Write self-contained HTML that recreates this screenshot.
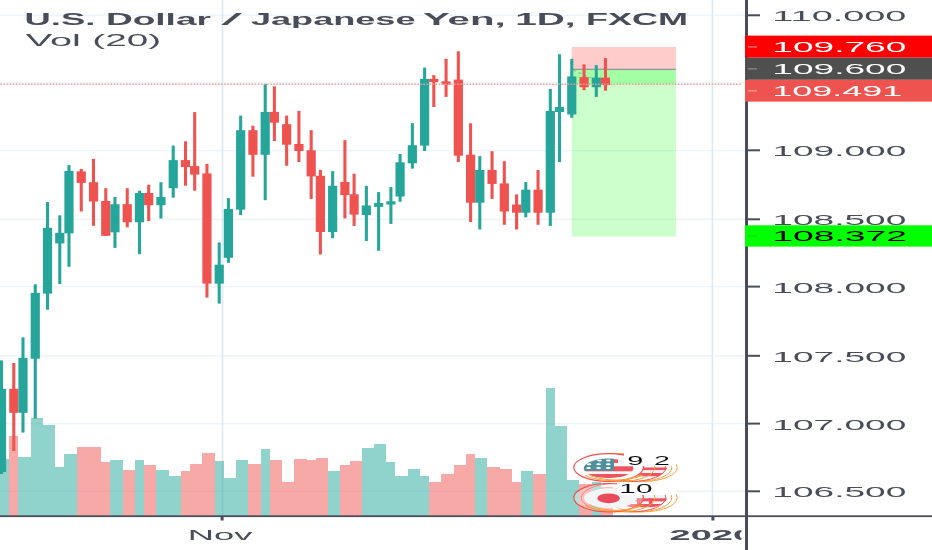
<!DOCTYPE html>
<html><head><meta charset="utf-8"><title>USDJPY chart</title>
<style>
html,body{margin:0;padding:0;background:#fff;}
body{width:932px;height:550px;overflow:hidden;}
svg{display:block;}
text{font-family:"Liberation Sans","DejaVu Sans",sans-serif;}
</style></head><body>
<svg width="932" height="550" viewBox="0 0 932 550">
<defs>
<filter id="soft" x="-2%" y="-2%" width="104%" height="104%"><feGaussianBlur stdDeviation="0.7"/></filter>
<clipPath id="plot"><rect x="0" y="0" width="745" height="516"/></clipPath>
<clipPath id="timeclip"><rect x="0" y="518" width="741.5" height="32"/></clipPath>
</defs>
<rect width="932" height="550" fill="#fff"/>
<g filter="url(#soft)">
<!-- grid -->
<g fill="#eef4f8">
<rect x="0" y="82" width="745" height="1.4" fill="#f3f7fa"/>
<rect x="0" y="14.5" width="745" height="1.6"/>
<rect x="0" y="149.8" width="745" height="1.6"/>
<rect x="0" y="218.5" width="745" height="1.6"/>
<rect x="0" y="285.8" width="745" height="1.6"/>
<rect x="0" y="355" width="745" height="1.6"/>
<rect x="0" y="422.8" width="745" height="1.6"/>
<rect x="0" y="490.5" width="745" height="1.6"/>
</g>
<g fill="#dde8ef">
<rect x="221.7" y="0" width="1.6" height="516"/>
<rect x="711.6" y="0" width="1.6" height="516"/>
</g>
<!-- position tool -->
<rect x="571.7" y="47" width="104.2" height="22.3" fill="rgba(255,0,0,0.2)"/>
<rect x="571.7" y="69.3" width="104.2" height="167.3" fill="rgba(0,255,0,0.2)"/>
<rect x="571.7" y="69.3" width="104.2" height="14.7" fill="rgba(0,255,0,0.2)"/>
<rect x="571.7" y="68.7" width="104.2" height="1.2" fill="#8f8f9c"/>
<line x1="573" y1="70" x2="591" y2="78" stroke="#8f8f9c" stroke-width="0.8" stroke-dasharray="3 3"/>
<!-- volume -->
<g clip-path="url(#plot)" shape-rendering="crispEdges">
<rect x="-3.07" y="458.9" width="12.26" height="56.7" fill="rgba(38,166,154,0.5)"/>
<rect x="9.2" y="435.6" width="9.2" height="80" fill="rgba(239,83,80,0.5)"/>
<rect x="18.39" y="456.9" width="12.26" height="58.7" fill="rgba(38,166,154,0.5)"/>
<rect x="30.66" y="418.4" width="12.26" height="97.2" fill="rgba(38,166,154,0.5)"/>
<rect x="42.92" y="424.6" width="12.26" height="91" fill="rgba(38,166,154,0.5)"/>
<rect x="55.18" y="466.6" width="9.2" height="49" fill="rgba(38,166,154,0.5)"/>
<rect x="64.38" y="454" width="12.26" height="61.6" fill="rgba(38,166,154,0.5)"/>
<rect x="76.64" y="446.8" width="12.26" height="68.8" fill="rgba(239,83,80,0.5)"/>
<rect x="88.91" y="446.8" width="12.26" height="68.8" fill="rgba(239,83,80,0.5)"/>
<rect x="101.17" y="461.5" width="9.2" height="54.1" fill="rgba(239,83,80,0.5)"/>
<rect x="110.37" y="459.9" width="12.26" height="55.7" fill="rgba(38,166,154,0.5)"/>
<rect x="122.63" y="469.9" width="12.26" height="45.7" fill="rgba(239,83,80,0.5)"/>
<rect x="134.89" y="460" width="9.2" height="55.6" fill="rgba(38,166,154,0.5)"/>
<rect x="144.09" y="465" width="12.26" height="50.6" fill="rgba(239,83,80,0.5)"/>
<rect x="156.36" y="470.2" width="12.26" height="45.4" fill="rgba(38,166,154,0.5)"/>
<rect x="168.62" y="476.2" width="12.26" height="39.4" fill="rgba(38,166,154,0.5)"/>
<rect x="180.88" y="471.2" width="9.2" height="44.4" fill="rgba(239,83,80,0.5)"/>
<rect x="190.08" y="463.9" width="12.26" height="51.7" fill="rgba(239,83,80,0.5)"/>
<rect x="202.34" y="452.9" width="12.26" height="62.7" fill="rgba(239,83,80,0.5)"/>
<rect x="214.61" y="461.4" width="9.2" height="54.2" fill="rgba(38,166,154,0.5)"/>
<rect x="223.8" y="477.5" width="12.26" height="38.1" fill="rgba(38,166,154,0.5)"/>
<rect x="236.07" y="460.2" width="12.26" height="55.4" fill="rgba(38,166,154,0.5)"/>
<rect x="248.33" y="463.9" width="12.26" height="51.7" fill="rgba(239,83,80,0.5)"/>
<rect x="260.59" y="449.1" width="9.2" height="66.5" fill="rgba(38,166,154,0.5)"/>
<rect x="269.79" y="460.2" width="12.26" height="55.4" fill="rgba(239,83,80,0.5)"/>
<rect x="282.05" y="482.2" width="12.26" height="33.4" fill="rgba(239,83,80,0.5)"/>
<rect x="294.32" y="458.9" width="12.26" height="56.7" fill="rgba(239,83,80,0.5)"/>
<rect x="306.58" y="460.2" width="9.2" height="55.4" fill="rgba(239,83,80,0.5)"/>
<rect x="315.78" y="457.6" width="12.26" height="58" fill="rgba(239,83,80,0.5)"/>
<rect x="328.04" y="471.2" width="12.26" height="44.4" fill="rgba(38,166,154,0.5)"/>
<rect x="340.3" y="465.2" width="9.2" height="50.4" fill="rgba(239,83,80,0.5)"/>
<rect x="349.5" y="461.4" width="12.26" height="54.2" fill="rgba(239,83,80,0.5)"/>
<rect x="361.76" y="447.8" width="12.26" height="67.8" fill="rgba(38,166,154,0.5)"/>
<rect x="374.03" y="444.2" width="12.26" height="71.4" fill="rgba(38,166,154,0.5)"/>
<rect x="386.29" y="461.5" width="9.2" height="54.1" fill="rgba(38,166,154,0.5)"/>
<rect x="395.49" y="476.1" width="12.26" height="39.5" fill="rgba(38,166,154,0.5)"/>
<rect x="407.75" y="468.8" width="12.26" height="46.8" fill="rgba(38,166,154,0.5)"/>
<rect x="420.01" y="476.1" width="9.2" height="39.5" fill="rgba(38,166,154,0.5)"/>
<rect x="429.21" y="482.3" width="12.26" height="33.3" fill="rgba(239,83,80,0.5)"/>
<rect x="441.47" y="473.8" width="12.26" height="41.8" fill="rgba(239,83,80,0.5)"/>
<rect x="453.74" y="465.3" width="12.26" height="50.3" fill="rgba(239,83,80,0.5)"/>
<rect x="466" y="454" width="9.2" height="61.6" fill="rgba(239,83,80,0.5)"/>
<rect x="475.2" y="457.8" width="12.26" height="57.8" fill="rgba(38,166,154,0.5)"/>
<rect x="487.46" y="466.5" width="12.26" height="49.1" fill="rgba(239,83,80,0.5)"/>
<rect x="499.72" y="468.8" width="12.26" height="46.8" fill="rgba(239,83,80,0.5)"/>
<rect x="511.99" y="482.3" width="9.2" height="33.3" fill="rgba(239,83,80,0.5)"/>
<rect x="521.18" y="471.3" width="12.26" height="44.3" fill="rgba(38,166,154,0.5)"/>
<rect x="533.45" y="473.8" width="12.26" height="41.8" fill="rgba(239,83,80,0.5)"/>
<rect x="545.71" y="387.5" width="9.2" height="128.1" fill="rgba(38,166,154,0.5)"/>
<rect x="554.91" y="425.8" width="12.26" height="89.8" fill="rgba(38,166,154,0.5)"/>
<rect x="567.17" y="480" width="12.26" height="35.6" fill="rgba(38,166,154,0.5)"/>
<rect x="579.43" y="483.8" width="12.26" height="31.8" fill="rgba(239,83,80,0.5)"/>
<rect x="591.7" y="482.4" width="9.2" height="33.2" fill="rgba(38,166,154,0.5)"/>
<rect x="600.89" y="487" width="12.26" height="28.6" fill="rgba(239,83,80,0.5)"/>
</g>
<!-- candles -->
<g clip-path="url(#plot)">
<rect x="0" y="360.4" width="3.07" height="113.6" fill="#26a69a"/>
<rect x="-3.07" y="388.8" width="9.2" height="83.2" fill="#26a69a"/>
<rect x="12.26" y="363" width="3.07" height="88" fill="#ef5350"/>
<rect x="9.2" y="388.8" width="9.2" height="24" fill="#ef5350"/>
<rect x="21.46" y="337.3" width="3.07" height="95.3" fill="#26a69a"/>
<rect x="18.39" y="357.9" width="9.2" height="54.9" fill="#26a69a"/>
<rect x="33.72" y="284.3" width="3.07" height="134.3" fill="#26a69a"/>
<rect x="30.66" y="292.9" width="9.2" height="65.8" fill="#26a69a"/>
<rect x="45.99" y="202" width="3.07" height="107.7" fill="#26a69a"/>
<rect x="42.92" y="227.8" width="9.2" height="65.8" fill="#26a69a"/>
<rect x="58.25" y="215.3" width="3.07" height="68.8" fill="#26a69a"/>
<rect x="55.18" y="232.8" width="9.2" height="10.6" fill="#26a69a"/>
<rect x="67.45" y="165.1" width="3.07" height="101.7" fill="#26a69a"/>
<rect x="64.38" y="170.9" width="9.2" height="62.4" fill="#26a69a"/>
<rect x="79.71" y="168.9" width="3.07" height="42.6" fill="#ef5350"/>
<rect x="76.64" y="171.4" width="9.2" height="11.5" fill="#ef5350"/>
<rect x="91.97" y="158.8" width="3.07" height="67" fill="#ef5350"/>
<rect x="88.91" y="182.2" width="9.2" height="19.3" fill="#ef5350"/>
<rect x="104.24" y="188.2" width="3.07" height="47.6" fill="#ef5350"/>
<rect x="101.17" y="201" width="9.2" height="34.8" fill="#ef5350"/>
<rect x="113.43" y="197" width="3.07" height="50.9" fill="#26a69a"/>
<rect x="110.37" y="204.2" width="9.2" height="28.1" fill="#26a69a"/>
<rect x="125.7" y="188.2" width="3.07" height="39.1" fill="#ef5350"/>
<rect x="122.63" y="204.2" width="9.2" height="18.1" fill="#ef5350"/>
<rect x="137.96" y="190.7" width="3.07" height="63.5" fill="#26a69a"/>
<rect x="134.89" y="193" width="9.2" height="29.3" fill="#26a69a"/>
<rect x="147.16" y="184.7" width="3.07" height="36.3" fill="#ef5350"/>
<rect x="144.09" y="193" width="9.2" height="12.2" fill="#ef5350"/>
<rect x="159.42" y="182.2" width="3.07" height="36.3" fill="#26a69a"/>
<rect x="156.36" y="197" width="9.2" height="8.2" fill="#26a69a"/>
<rect x="171.68" y="145.6" width="3.07" height="52.1" fill="#26a69a"/>
<rect x="168.62" y="160.1" width="9.2" height="28.1" fill="#26a69a"/>
<rect x="183.95" y="141.3" width="3.07" height="44.4" fill="#ef5350"/>
<rect x="180.88" y="160.1" width="9.2" height="7" fill="#ef5350"/>
<rect x="193.14" y="112.1" width="3.07" height="78.6" fill="#ef5350"/>
<rect x="190.08" y="166.1" width="9.2" height="8.5" fill="#ef5350"/>
<rect x="205.41" y="163.9" width="3.07" height="133.7" fill="#ef5350"/>
<rect x="202.34" y="173.4" width="9.2" height="110.2" fill="#ef5350"/>
<rect x="217.67" y="242.5" width="3.07" height="61.1" fill="#26a69a"/>
<rect x="214.61" y="264.7" width="9.2" height="18.9" fill="#26a69a"/>
<rect x="226.87" y="198.1" width="3.07" height="64.7" fill="#26a69a"/>
<rect x="223.8" y="208.9" width="9.2" height="48.9" fill="#26a69a"/>
<rect x="239.13" y="115.6" width="3.07" height="99.5" fill="#26a69a"/>
<rect x="236.07" y="130.2" width="9.2" height="79.4" fill="#26a69a"/>
<rect x="251.39" y="125.7" width="3.07" height="51" fill="#ef5350"/>
<rect x="248.33" y="130.2" width="9.2" height="24.6" fill="#ef5350"/>
<rect x="263.66" y="83.8" width="3.07" height="116.4" fill="#26a69a"/>
<rect x="260.59" y="111.9" width="9.2" height="42.9" fill="#26a69a"/>
<rect x="272.86" y="86.3" width="3.07" height="54.7" fill="#ef5350"/>
<rect x="269.79" y="111.9" width="9.2" height="10.8" fill="#ef5350"/>
<rect x="285.12" y="115.6" width="3.07" height="50.2" fill="#ef5350"/>
<rect x="282.05" y="124.2" width="9.2" height="20.5" fill="#ef5350"/>
<rect x="297.38" y="110.9" width="3.07" height="51.1" fill="#ef5350"/>
<rect x="294.32" y="144" width="9.2" height="7" fill="#ef5350"/>
<rect x="309.64" y="130.2" width="3.07" height="68.8" fill="#ef5350"/>
<rect x="306.58" y="150.3" width="9.2" height="26.1" fill="#ef5350"/>
<rect x="318.84" y="169.8" width="3.07" height="84.7" fill="#ef5350"/>
<rect x="315.78" y="175.8" width="9.2" height="56.2" fill="#ef5350"/>
<rect x="331.11" y="171.2" width="3.07" height="67" fill="#26a69a"/>
<rect x="328.04" y="185.8" width="9.2" height="46.2" fill="#26a69a"/>
<rect x="343.37" y="140.2" width="3.07" height="78.2" fill="#ef5350"/>
<rect x="340.3" y="182" width="9.2" height="13.1" fill="#ef5350"/>
<rect x="352.57" y="173.7" width="3.07" height="52.2" fill="#ef5350"/>
<rect x="349.5" y="194.3" width="9.2" height="20.3" fill="#ef5350"/>
<rect x="364.83" y="185.8" width="3.07" height="55.2" fill="#26a69a"/>
<rect x="361.76" y="205.5" width="9.2" height="9.6" fill="#26a69a"/>
<rect x="377.09" y="192.1" width="3.07" height="58.7" fill="#26a69a"/>
<rect x="374.03" y="203" width="9.2" height="3.9" fill="#26a69a"/>
<rect x="389.36" y="187.1" width="3.07" height="36.8" fill="#26a69a"/>
<rect x="386.29" y="201.3" width="9.2" height="3.2" fill="#26a69a"/>
<rect x="398.55" y="154" width="3.07" height="47.8" fill="#26a69a"/>
<rect x="395.49" y="162.3" width="9.2" height="34.2" fill="#26a69a"/>
<rect x="410.82" y="123.2" width="3.07" height="45.4" fill="#26a69a"/>
<rect x="407.75" y="145.2" width="9.2" height="18.1" fill="#26a69a"/>
<rect x="423.08" y="67.6" width="3.07" height="83.4" fill="#26a69a"/>
<rect x="420.01" y="78.9" width="9.2" height="66.7" fill="#26a69a"/>
<rect x="432.28" y="75.1" width="3.07" height="31.9" fill="#ef5350"/>
<rect x="429.21" y="78.9" width="9.2" height="3.2" fill="#ef5350"/>
<rect x="444.54" y="58.8" width="3.07" height="38.1" fill="#ef5350"/>
<rect x="441.47" y="81.4" width="9.2" height="3.2" fill="#ef5350"/>
<rect x="456.8" y="51.3" width="3.07" height="110.7" fill="#ef5350"/>
<rect x="453.74" y="79.6" width="9.2" height="76.1" fill="#ef5350"/>
<rect x="469.07" y="123.3" width="3.07" height="98.7" fill="#ef5350"/>
<rect x="466" y="154.7" width="9.2" height="48" fill="#ef5350"/>
<rect x="478.26" y="156.1" width="3.07" height="73.4" fill="#26a69a"/>
<rect x="475.2" y="170" width="9.2" height="32.7" fill="#26a69a"/>
<rect x="490.53" y="151.2" width="3.07" height="47.7" fill="#ef5350"/>
<rect x="487.46" y="170" width="9.2" height="13.9" fill="#ef5350"/>
<rect x="502.79" y="161.2" width="3.07" height="63.6" fill="#ef5350"/>
<rect x="499.72" y="183.4" width="9.2" height="28.1" fill="#ef5350"/>
<rect x="515.05" y="194.4" width="3.07" height="35.1" fill="#ef5350"/>
<rect x="511.99" y="204.5" width="9.2" height="8.2" fill="#ef5350"/>
<rect x="524.25" y="182.1" width="3.07" height="35.2" fill="#26a69a"/>
<rect x="521.18" y="189.7" width="9.2" height="23" fill="#26a69a"/>
<rect x="536.51" y="170" width="3.07" height="54.8" fill="#ef5350"/>
<rect x="533.45" y="189.7" width="9.2" height="23" fill="#ef5350"/>
<rect x="548.78" y="88.9" width="3.07" height="137.1" fill="#26a69a"/>
<rect x="545.71" y="111" width="9.2" height="101.7" fill="#26a69a"/>
<rect x="557.97" y="54.3" width="3.07" height="107.7" fill="#26a69a"/>
<rect x="554.91" y="107" width="9.2" height="5" fill="#26a69a"/>
<rect x="570.24" y="58.8" width="3.07" height="59" fill="#26a69a"/>
<rect x="567.17" y="76.4" width="9.2" height="38.1" fill="#26a69a"/>
<rect x="582.5" y="64.3" width="3.07" height="25.9" fill="#ef5350"/>
<rect x="579.43" y="77.1" width="9.2" height="10.1" fill="#ef5350"/>
<rect x="594.76" y="65.1" width="3.07" height="31.8" fill="#26a69a"/>
<rect x="591.7" y="77.6" width="9.2" height="9.6" fill="#26a69a"/>
<rect x="603.96" y="58.1" width="3.07" height="32.6" fill="#ef5350"/>
<rect x="600.89" y="77.6" width="9.2" height="7.5" fill="#ef5350"/>
</g>
<!-- price line -->
<line x1="0.4" y1="84.2" x2="742" y2="84.2" stroke="#f39c9a" stroke-width="1.5" stroke-dasharray="1.5328 1.5328"/>
<!-- event icons -->
<defs>
<clipPath id="fl1"><ellipse cx="608.6" cy="468.3" rx="24.7" ry="9.8"/></clipPath>
<clipPath id="fl2"><ellipse cx="642" cy="468.3" rx="24.7" ry="9.8"/></clipPath>
<clipPath id="fl3"><ellipse cx="642" cy="498.2" rx="24.7" ry="9.8"/></clipPath>
<clipPath id="rgt"><path clip-rule="evenodd" d="M560 440H700V520H560Z M573.8 497.7 a34.8 14.2 0 1 0 69.6 0 a34.8 14.2 0 1 0 -69.6 0Z"/></clipPath>
<clipPath id="btm1"><rect x="585" y="474.5" width="70" height="10"/></clipPath>
<clipPath id="btm2"><rect x="585" y="504.5" width="70" height="10"/></clipPath>
</defs>
<g fill="none" stroke-width="1">
<!-- upper row: second stack behind -->
<ellipse cx="642.4" cy="467.6" rx="34.8" ry="13.9" fill="#fff" stroke="#f6a23c"/>
<g clip-path="url(#fl2)" stroke="none">
<rect x="610" y="455" width="70" height="30" fill="#f4f5f7"/>
<rect x="610" y="467.5" width="70" height="2.6" fill="#ee5361"/>
<rect x="610" y="473" width="70" height="3.2" fill="#ee5361"/>
</g>
<g>
<ellipse cx="637" cy="467.6" rx="34.8" ry="13.9" stroke="#f6a23c"/>
<ellipse cx="631" cy="467.6" rx="34.8" ry="13.9" stroke="#ef5350"/>
<ellipse cx="620" cy="467.6" rx="34.8" ry="13.9" stroke="#f6a23c"/>
</g>
<!-- upper front: US flag -->
<ellipse cx="608.6" cy="467.6" rx="34.8" ry="13.9" fill="#fff" stroke="#ef5350" stroke-width="1.2"/>
<g clip-path="url(#btm1)">
<ellipse cx="612" cy="467.2" rx="34" ry="13.4" stroke="#f6a23c"/>
<ellipse cx="616" cy="466.6" rx="34" ry="13.4" stroke="#f6a23c"/>
</g>
<g clip-path="url(#fl1)" stroke="none">
<rect x="580" y="455" width="60" height="28" fill="#f4f5f7"/>
<rect x="612" y="459.3" width="6" height="3.6" fill="#ee5361"/>
<rect x="580" y="466.3" width="60" height="5" fill="#ee5361"/>
<rect x="580" y="474" width="60" height="5" fill="#ee5361"/>
<rect x="580" y="456" width="34" height="14.7" fill="#4f8f9b"/>
<g fill="#fff">
<ellipse cx="590.5" cy="460.4" rx="2.4" ry="1"/><ellipse cx="599.5" cy="460.4" rx="2.4" ry="1"/><ellipse cx="608.3" cy="460.4" rx="2.4" ry="1"/>
<ellipse cx="589" cy="464.2" rx="2.4" ry="1"/><ellipse cx="598.6" cy="464.2" rx="2.4" ry="1"/><ellipse cx="608.3" cy="464.2" rx="2.4" ry="1"/>
<ellipse cx="588.6" cy="468" rx="2.4" ry="1"/><ellipse cx="598.6" cy="468" rx="2.4" ry="1"/><ellipse cx="608.3" cy="468" rx="2.4" ry="1"/>
</g>
</g>
<!-- lower row: second stack behind -->
<ellipse cx="642.4" cy="497.7" rx="34.8" ry="14.2" fill="#fff" stroke="#f6a23c"/>
<g clip-path="url(#fl3)" stroke="none">
<rect x="610" y="485" width="70" height="30" fill="#f4f5f7"/>
<rect x="610" y="498.3" width="70" height="3" fill="#ee5361"/>
<rect x="610" y="504" width="70" height="3.2" fill="#ee5361"/>
<rect x="637" y="498.3" width="3.4" height="8" fill="#ee5361"/><rect x="649" y="498.3" width="3.4" height="8" fill="#ee5361"/>
</g>
<g clip-path="url(#rgt)">
<ellipse cx="637" cy="497.7" rx="34.8" ry="14.2" stroke="#f6a23c"/>
<ellipse cx="631" cy="497.7" rx="34.8" ry="14.2" stroke="#ef5350"/>
<ellipse cx="620" cy="497.7" rx="34.8" ry="14.2" stroke="#f6a23c"/>
</g>
<!-- lower front: Japan flag -->
<path d="M 612 483.6 A 34.8 14.2 0 0 0 612 511.8" stroke="#ef5350"/>
<ellipse cx="608.6" cy="497.7" rx="34.8" ry="14.2" fill="rgba(255,255,255,0.3)" stroke="#ef5350" stroke-width="1.2"/>
<g clip-path="url(#btm2)">
<ellipse cx="612" cy="497.3" rx="34" ry="13.6" stroke="#f6a23c"/>
<ellipse cx="616" cy="496.7" rx="34" ry="13.6" stroke="#f6a23c"/>
</g>
<ellipse cx="610.5" cy="498.1" rx="26.5" ry="9.8" fill="#f4f5f7" stroke="none"/>
<ellipse cx="608.6" cy="498.3" rx="11.2" ry="4.9" fill="#ea4c5c" stroke="none"/>
</g>
<!-- count badges -->
<rect x="624" y="451" width="52" height="15" fill="#fff"/>
<rect x="617" y="482" width="59" height="13" fill="#fff"/>
<g>
<text x="627.29" y="464.6" font-size="12.3" fill="#111" textLength="16.08" lengthAdjust="spacingAndGlyphs">9</text>
<text x="654.0" y="464.6" font-size="12.3" fill="#111" textLength="15.84" lengthAdjust="spacingAndGlyphs">2</text>
<text x="619.39" y="493.0" font-size="12.3" fill="#111" textLength="33.11" lengthAdjust="spacingAndGlyphs">10</text>
</g>

<!-- axes -->
<rect x="745" y="0" width="3" height="550" fill="#4a4e5a"/>
<rect x="0" y="515.3" width="932" height="1.8" fill="#4a4e5a"/>
<g fill="#4a4e5a">
<rect x="748" y="14.3" width="12" height="2"/>
<rect x="748" y="149.3" width="12" height="2"/>
<rect x="748" y="218.3" width="12" height="2"/>
<rect x="748" y="285.6" width="12" height="2"/>
<rect x="748" y="354.8" width="12" height="2"/>
<rect x="748" y="422.6" width="12" height="2"/>
<rect x="748" y="490.3" width="12" height="2"/>
<rect x="220.6" y="516.5" width="3" height="4"/>
<rect x="711.4" y="516.5" width="3" height="4"/>
</g>
<!-- axis labels -->
<g fill="#4a4e5a" font-size="15.5">
<text x="772.38" y="20.8" textLength="133.99" lengthAdjust="spacingAndGlyphs">110.000</text>
<text x="772.38" y="156.3" textLength="133.99" lengthAdjust="spacingAndGlyphs">109.000</text>
<text x="772.38" y="225.3" textLength="133.99" lengthAdjust="spacingAndGlyphs">108.500</text>
<text x="772.38" y="292.6" textLength="133.99" lengthAdjust="spacingAndGlyphs">108.000</text>
<text x="772.38" y="361.6" textLength="133.99" lengthAdjust="spacingAndGlyphs">107.500</text>
<text x="772.38" y="429.6" textLength="133.99" lengthAdjust="spacingAndGlyphs">107.000</text>
<text x="772.38" y="497.3" textLength="133.99" lengthAdjust="spacingAndGlyphs">106.500</text>
</g>
<!-- price labels -->
<rect x="745" y="35.6" width="187" height="22.1" fill="#ff0000"/>
<rect x="745" y="57.7" width="187" height="22.1" fill="#4f4f4f"/>
<rect x="745" y="79.8" width="187" height="21.8" fill="#ef5350"/>
<rect x="745" y="225.3" width="187" height="21.3" fill="#00ff00"/>
<rect x="748" y="46.2" width="9" height="1.3" fill="#ff8080"/>
<rect x="748" y="68.2" width="9" height="1.3" fill="#8a8a8a"/>
<rect x="748" y="90.2" width="9" height="1.3" fill="#f59c9a"/>
<rect x="748" y="235.6" width="9" height="1.3" fill="#10d810"/>
<g font-size="15.5">
<text x="772.38" y="51.9" fill="#fff" textLength="133.99" lengthAdjust="spacingAndGlyphs">109.760</text>
<text x="772.38" y="74" fill="#fff" textLength="133.99" lengthAdjust="spacingAndGlyphs">109.600</text>
<text x="772.38" y="95.8" fill="#fff" textLength="130.0" lengthAdjust="spacingAndGlyphs">109.491</text>
<text x="772.38" y="241.1" fill="#000" textLength="134.62" lengthAdjust="spacingAndGlyphs">108.372</text>
</g>
<!-- time labels -->
<text x="187.71" y="539.9" font-size="15.4" fill="#4a4e5a" textLength="64.64" lengthAdjust="spacingAndGlyphs">Nov</text>
<g clip-path="url(#timeclip)"><text x="669.57" y="539.8" font-size="14.8" font-weight="bold" fill="#4a4e5a" textLength="84.46" lengthAdjust="spacingAndGlyphs">2020</text></g>
<!-- title -->
<text y="25.3" font-size="15.8" font-weight="bold" fill="#4a4e5a"><tspan x="24.59" textLength="70.87" lengthAdjust="spacingAndGlyphs">U.S.</tspan> <tspan x="105.95" textLength="105.06" lengthAdjust="spacingAndGlyphs">Dollar</tspan> <tspan x="221.39" textLength="20.79" lengthAdjust="spacingAndGlyphs" font-weight="normal">/</tspan> <tspan x="250.98" textLength="164.55" lengthAdjust="spacingAndGlyphs">Japanese</tspan> <tspan x="422.96" textLength="82.74" lengthAdjust="spacingAndGlyphs">Yen,</tspan> <tspan x="515.15" textLength="60.31" lengthAdjust="spacingAndGlyphs">1D,</tspan> <tspan x="585.91" textLength="102.01" lengthAdjust="spacingAndGlyphs">FXCM</tspan></text>
<text y="46.25" font-size="15.8" fill="#4a4e5a"><tspan x="25.69" textLength="55.18" lengthAdjust="spacingAndGlyphs">Vol</tspan> <tspan x="92.36" textLength="68.8" lengthAdjust="spacingAndGlyphs">(20)</tspan></text>
</g>
</svg>
</body></html>
